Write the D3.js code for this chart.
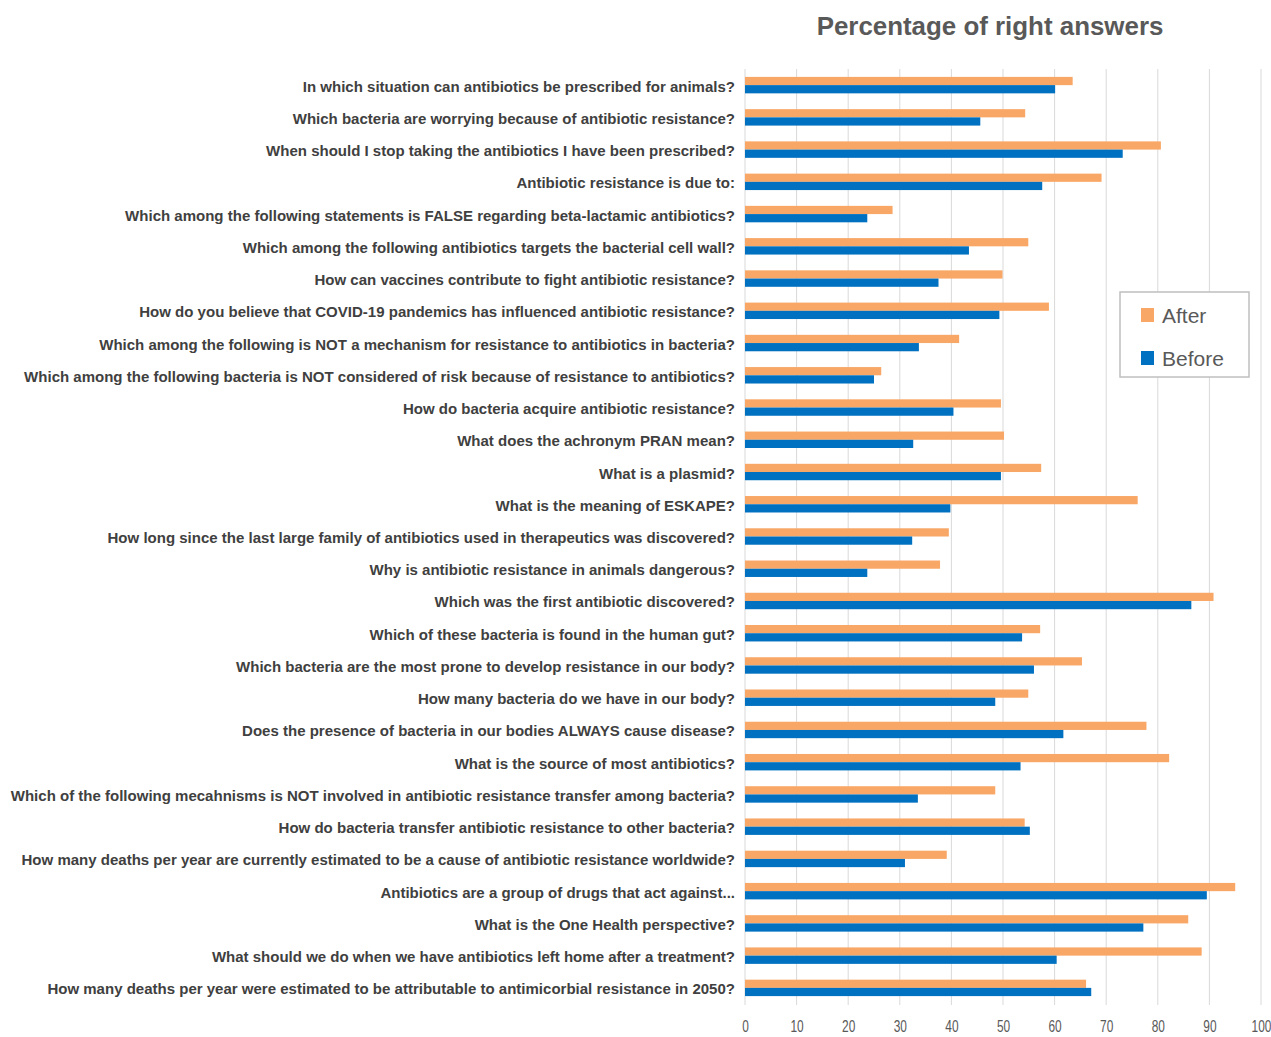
<!DOCTYPE html>
<html>
<head>
<meta charset="utf-8">
<script src="https://cdn.jsdelivr.net/npm/d3@7"></script>
<style>
  body { margin: 0; background: #fff; }
  svg { display: block; font-family: "Liberation Sans", Arial, sans-serif; }
</style>
</head>
<body>
<div id="chart"></div>
<script>
// questions, top to bottom
var questions = [
    "In which situation can antibiotics be prescribed for animals?",
    "Which bacteria are worrying because of antibiotic resistance?",
    "When should I stop taking the antibiotics I have been prescribed?",
    "Antibiotic resistance is due to:",
    "Which among the following statements is FALSE regarding beta-lactamic antibiotics?",
    "Which among the following antibiotics targets the bacterial cell wall?",
    "How can vaccines contribute to fight antibiotic resistance?",
    "How do you believe that COVID-19 pandemics has influenced antibiotic resistance?",
    "Which among the following is NOT a mechanism for resistance to antibiotics in bacteria?",
    "Which among the following bacteria is NOT considered of risk because of resistance to antibiotics?",
    "How do bacteria acquire antibiotic resistance?",
    "What does the achronym PRAN mean?",
    "What is a plasmid?",
    "What is the meaning of ESKAPE?",
    "How long since the last large family of antibiotics used in therapeutics was discovered?",
    "Why is antibiotic resistance in animals dangerous?",
    "Which was the first antibiotic discovered?",
    "Which of these bacteria is found in the human gut?",
    "Which bacteria are the most prone to develop resistance in our body?",
    "How many bacteria do we have in our body?",
    "Does the presence of bacteria in our bodies ALWAYS cause disease?",
    "What is the source of most antibiotics?",
    "Which of the following mecahnisms is NOT involved in antibiotic resistance transfer among bacteria?",
    "How do bacteria transfer antibiotic resistance to other bacteria?",
    "How many deaths per year are currently estimated to be a cause of antibiotic resistance worldwide?",
    "Antibiotics are a group of drugs that act against...",
    "What is the One Health perspective?",
    "What should we do when we have antibiotics left home after a treatment?",
    "How many deaths per year were estimated to be attributable to antimicorbial resistance in 2050?"
];

// percentage of right answers
var after = [63.5, 54.3, 80.6, 69.1, 28.6, 54.9, 49.9, 58.9, 41.5, 26.4,
             49.6, 50.2, 57.4, 76.1, 39.5, 37.8, 90.8, 57.2, 65.3, 54.9,
             77.8, 82.2, 48.5, 54.2, 39.1, 95.0, 85.9, 88.5, 66.1];
var before = [60.1, 45.6, 73.2, 57.6, 23.7, 43.4, 37.5, 49.3, 33.7, 25.0,
              40.4, 32.6, 49.6, 39.8, 32.4, 23.7, 86.5, 53.7, 56.0, 48.5,
              61.7, 53.4, 33.5, 55.2, 31.0, 89.5, 77.2, 60.4, 67.1];

var seriesNames = ["After", "Before"];
var seriesColors = ["#f9a766", "#0070c0"];
var xTicks = [0, 10, 20, 30, 40, 50, 60, 70, 80, 90, 100];

var width = 1271, height = 1037;
var plot = { left: 745, right: 1261, top: 69, bottom: 1004 };

var svg = d3.select("#chart").append("svg")
    .attr("width", width)
    .attr("height", height);

// scales
var x = d3.scaleLinear().domain([0, 100]).range([plot.left, plot.right]);
var y = d3.scaleBand().domain(questions).range([plot.top, plot.bottom])
    .paddingInner(0.49).paddingOuter(0.245);
var ySeries = d3.scaleBand().domain(seriesNames).range([0, y.bandwidth()]);
var color = d3.scaleOrdinal().domain(seriesNames).range(seriesColors);

// gridlines
svg.append("g").selectAll("line")
    .data(xTicks)
    .enter().append("line")
    .attr("x1", function(d) { return x(d); })
    .attr("x2", function(d) { return x(d); })
    .attr("y1", plot.top)
    .attr("y2", plot.bottom + 1)
    .attr("stroke", "#d9d9d9")
    .attr("stroke-width", 1);

// bars
var rows = questions.map(function(q, i) {
    return { q: q, values: [{ s: "After", v: after[i] }, { s: "Before", v: before[i] }] };
});

var groups = svg.append("g").selectAll("g")
    .data(rows)
    .enter().append("g")
    .attr("transform", function(d) { return "translate(0," + y(d.q) + ")"; });

groups.selectAll("rect")
    .data(function(d) { return d.values; })
    .enter().append("rect")
    .attr("x", x(0))
    .attr("y", function(d) { return ySeries(d.s); })
    .attr("width", function(d) { return x(d.v) - x(0); })
    .attr("height", ySeries.bandwidth())
    .attr("fill", function(d) { return color(d.s); });

// category labels, condensed to look like the original narrow font
var labels = svg.append("g").selectAll("text")
    .data(questions)
    .enter().append("text")
    .attr("text-anchor", "end")
    .attr("dominant-baseline", "central")
    .attr("font-size", 15)
    .attr("font-weight", "bold")
    .attr("fill", "#404040")
    .text(function(d) { return d; });

var longest = 0;
labels.each(function() { longest = Math.max(longest, this.getComputedTextLength()); });
var sx = 725 / longest;
labels.attr("transform", function(d) {
    return "translate(735," + (y(d) + y.bandwidth() / 2 + 1) + ") scale(" + sx + ",1)";
});

// x axis
var xAxis = svg.append("g")
    .attr("transform", "translate(0," + plot.bottom + ")")
    .call(d3.axisBottom(x).tickValues(xTicks).tickSize(0).tickPadding(16));
xAxis.select(".domain").remove();
xAxis.selectAll("text")
    .attr("font-family", "Liberation Sans, Arial, sans-serif")
    .attr("font-size", 17)
    .attr("fill", "#595959")
    .attr("transform", "scale(0.7,1)");

// title
var title = svg.append("text")
    .attr("font-size", 25)
    .attr("font-weight", "bold")
    .attr("fill", "#595959")
    .attr("text-anchor", "middle")
    .text("Percentage of right answers");
var tw = title.node().getComputedTextLength();
title.attr("transform", "translate(990,35) scale(" + (347 / tw) + ",1)");

// legend
var legend = svg.append("g").attr("transform", "translate(1120,292)");
legend.append("rect")
    .attr("width", 129)
    .attr("height", 85)
    .attr("fill", "#fff")
    .attr("stroke", "#bfbfbf")
    .attr("stroke-width", 1.5);

var items = legend.selectAll("g.item")
    .data(seriesNames)
    .enter().append("g")
    .attr("class", "item")
    .attr("transform", function(d, i) { return "translate(21," + (16 + i * 43) + ")"; });
items.append("rect")
    .attr("width", 13)
    .attr("height", 14)
    .attr("fill", function(d) { return color(d); });
items.append("text")
    .attr("x", 21)
    .attr("y", 7)
    .attr("dominant-baseline", "central")
    .attr("font-size", 21)
    .attr("fill", "#595959")
    .text(function(d) { return d; });
</script>
</body>
</html>
